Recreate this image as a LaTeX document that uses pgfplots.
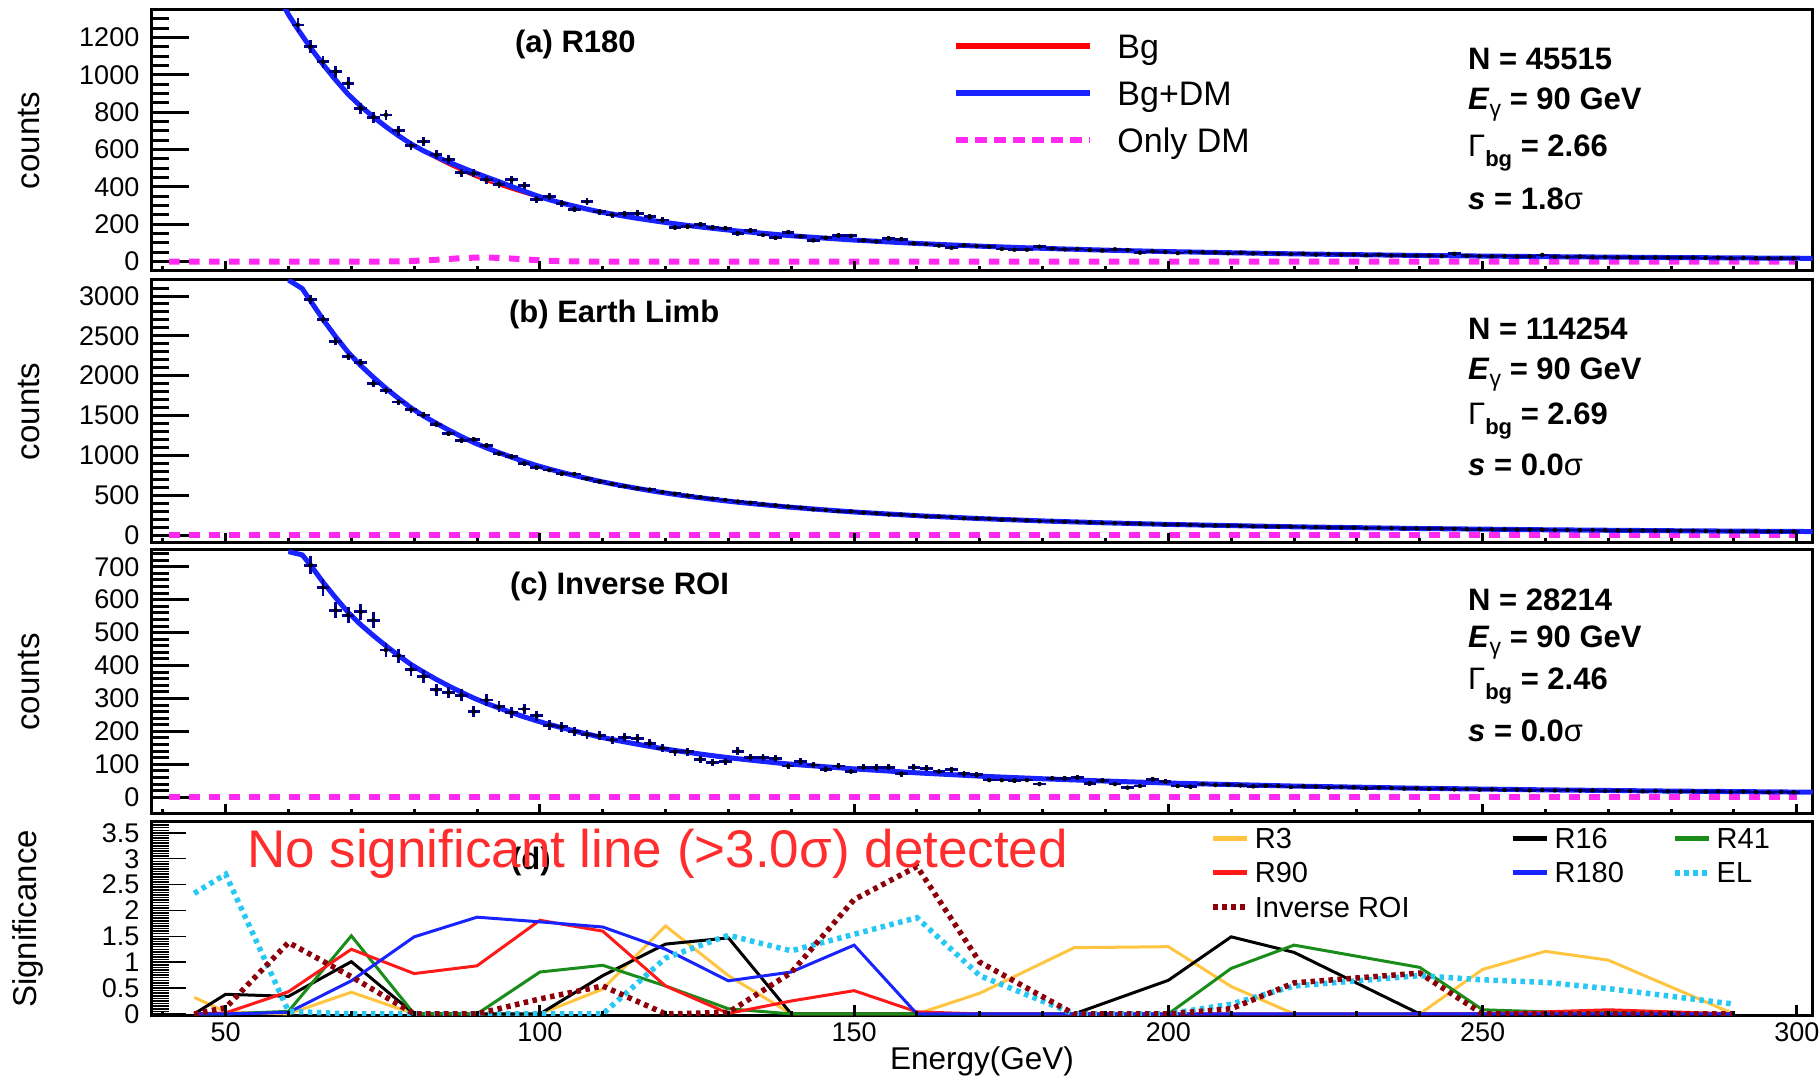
\documentclass[border=0pt]{standalone}
\usepackage{fontspec}
\setmainfont{Liberation Sans}
\usepackage{pgfplots}
\usepackage{pgfplotstable}
\pgfplotsset{compat=1.18}

\definecolor{ptblue}{RGB}{0,0,140}
\definecolor{fitblue}{RGB}{25,35,255}
\definecolor{bgred}{RGB}{255,0,0}
\definecolor{dmmag}{RGB}{255,40,240}
\definecolor{cRthree}{RGB}{255,196,64}
\definecolor{cRfortyone}{RGB}{25,140,25}
\definecolor{cRninety}{RGB}{255,25,25}
\definecolor{cRoneeighty}{RGB}{25,35,255}
\definecolor{cEL}{RGB}{40,200,245}
\definecolor{cIROI}{RGB}{140,0,10}
\definecolor{notered}{RGB}{255,45,45}

\newcommand{\fs}[1]{\fontsize{#1pt}{#1pt}\selectfont}

\tikzset{statnode/.style={anchor=base west, inner sep=0pt, font=\fs{31}\bfseries}}

\pgfplotsset{
  panel/.style={
    scale only axis, width=1661pt,
    xmin=38.2, xmax=302.5,
    axis line style={line width=3pt},
    tick style={black, line width=3pt},
    tick align=inside, tick pos=left,
    xtick=\empty,
    major tick length=37pt, minor tick length=17pt,
    scaled ticks=false,
    /pgf/number format/assume math mode=true,
    /pgf/number format/1000 sep={},
    yticklabel style={font=\fs{27}, inner sep=0pt, xshift=-12pt},
    ylabel style={font=\fs{33}, at={(axis description cs:-0.0674,0.5)}, anchor=base},
  },
  energyticks/.style={
    scale only axis, width=1661pt,
    xmin=38.2, xmax=302.5, ymin=0, ymax=1,
    axis line style={draw=none},
    tick style={black, line width=3pt},
    tick align=inside, tick pos=left,
    ytick=\empty,
    xtick={50,100,...,300}, minor xtick={40,50,...,300},
    major tick length=10pt, minor tick length=4.5pt,
    xticklabels={},
  },
  datapts/.style={only marks, mark=none, forget plot,
    error bars/x dir=both, error bars/x fixed=1,
    error bars/y dir=both, error bars/y explicit,
    error bars/error mark=none,
    error bars/error bar style={ptblue, line width=2.8pt}},
  bgline/.style={bgred, line width=2pt, forget plot},
  fitline/.style={fitblue, line width=5pt, forget plot},
  dmline/.style={dmmag, line width=6pt, dash pattern=on 10.5pt off 9.5pt, forget plot},
  sigleg/.style={
    scale only axis, width=1661pt, height=194pt, hide axis,
    xmin=0, xmax=1, ymin=0, ymax=1,
    legend style={at={(rel axis cs:#1,0.9698)}, anchor=north west, draw=none, fill=none,
      inner sep=0pt, outer sep=0pt, row sep=13.3pt, font=\fs{29},
      nodes={inner sep=0pt, text height=20.9pt, text depth=0pt},
      /tikz/every odd column/.append style={column sep=0pt},
      /tikz/every even column/.append style={column sep=0pt}},
    legend cell align=left,
    legend image code/.code={\draw[##1] (0pt,0pt) -- (34pt,0pt); \path[draw=none] (0pt,0pt) -- (42pt,0pt);},
  },
}

% ---------------- (a) R180 ----------------
\pgfplotstableread{
E n
61.5 1268
63.5 1152
65.5 1071
67.5 1018
69.5 956
71.5 822
73.5 773
75.5 786
77.5 702
79.5 621
81.5 643
83.5 572
85.5 548
87.5 477
89.5 473
91.5 438
93.5 415
95.5 438
97.5 407
99.5 334
101.5 348
103.5 313
105.5 281
107.5 321
109.5 268
111.5 250
113.5 256
115.5 259
117.5 241
119.5 223
121.5 182
123.5 188
125.5 200
127.5 184
129.5 179
131.5 152
133.5 166
135.5 143
137.5 128
139.5 158
141.5 136
143.5 114
145.5 128
147.5 140
149.5 138
151.5 114
153.5 108
155.5 124
157.5 120
159.5 98
161.5 95
163.5 86
165.5 74
167.5 88
169.5 84
171.5 80
173.5 68
175.5 64
177.5 64
179.5 80
181.5 70
183.5 66
185.5 68
187.5 62
189.5 60
191.5 66
193.5 62
195.5 48
197.5 56
199.5 52
201.5 46
203.5 52
205.5 50
207.5 49
209.5 45
211.5 48
213.5 44
215.5 46
217.5 42
219.5 41
221.5 42
223.5 38
225.5 41
227.5 37
229.5 38
231.5 35
233.5 37
235.5 33
237.5 35
239.5 32
241.5 33
243.5 30
245.5 42
247.5 31
249.5 30
251.5 29
253.5 30
255.5 28
257.5 29
259.5 36
261.5 26
263.5 25
265.5 27
267.5 24
269.5 25
271.5 23
273.5 24
275.5 22
277.5 23
279.5 22
281.5 21
283.5 22
285.5 20
287.5 21
289.5 19
291.5 20
293.5 19
295.5 18
297.5 19
299.5 18
}\dataA

\pgfplotstableread{
E bg tot
58 1448 1448
60 1323 1323
61.5 1244 1244
63.5 1146 1146
65.5 1056 1056
67.5 973 973
69.5 896 896
71.5 832 832
73.5 775 775.3
75.5 722 722.8
77.5 673 674.8
79.5 627 630.5
81.5 587 593.3
83.5 552 562.1
85.5 518 532.5
87.5 487 505.6
89.5 457 478.3
91.5 431 452.9
93.5 408 428.2
95.5 386 402.6
97.5 365 377.2
99.5 345 353.1
101.5 327 331.8
103.5 311 313.5
105.5 296 297.2
107.5 281 281.5
109.5 267 267
111.5 255 255
113.5 243 243
115.5 232 232
117.5 222 222
119.5 212 212
121.5 203 203
123.5 194 194
125.5 186 186
127.5 178.5 178.5
129.5 171 171
131.5 164 164
133.5 158 158
135.5 152 152
137.5 146 146
139.5 140 140
145 126.7 126.7
150 115.6 115.6
160 97.4 97.4
170 82.9 82.9
180 71.2 71.2
190 61.6 61.6
200 53.8 53.8
220 41.7 41.7
240 33.1 33.1
260 26.8 26.8
280 22.0 22.0
300 18.3 18.3
302.5 17.9 17.9
}\fitA

\pgfplotstableread{
E dm
41 0
72 0
73.5 0.3
75.5 0.8
77.5 1.8
79.5 3.5
81.5 6.3
83.5 10.1
85.5 14.5
87.5 18.6
89.5 21.3
91.5 21.9
93.5 20.2
95.5 16.6
97.5 12.2
99.5 8.1
101.5 4.8
103.5 2.5
105.5 1.2
107.5 0.5
110 0
300 0
}\dmA

% ---------------- (b) Earth Limb ----------------
\pgfplotstableread{
E n
63.5 2958
65.5 2707
67.5 2430
69.5 2240
71.5 2163
73.5 1900
75.5 1815
77.5 1670
79.5 1575
81.5 1506
83.5 1390
85.5 1275
87.5 1190
89.5 1201
91.5 1125
93.5 1020
95.5 983
97.5 900
99.5 850
101.5 815
103.5 770
105.5 766
107.5 705
109.5 672
111.5 640
113.5 613
115.5 586
117.5 570
119.5 540
121.5 518
123.5 495
125.5 475
127.5 455
129.5 440
131.5 420
133.5 405
135.5 388
137.5 372
139.5 358
141.5 343
143.5 322
145.5 314
147.5 300
149.5 296
151.5 280
153.5 275
155.5 258
157.5 256
159.5 247
161.5 234
163.5 230
165.5 225
167.5 212
169.5 210
171.5 204
173.5 192
175.5 190
177.5 186
179.5 176
181.5 175
183.5 166
185.5 164
187.5 160
189.5 152
191.5 150
193.5 147
195.5 140
197.5 139
199.5 133
201.5 131
203.5 128
205.5 122
207.5 122
209.5 117
211.5 116
213.5 111
215.5 110
217.5 105
219.5 105
221.5 100
223.5 99
225.5 97
227.5 93
229.5 93
231.5 89
233.5 88
235.5 87
237.5 83
239.5 83
241.5 79
243.5 79
245.5 77
247.5 74
249.5 74
251.5 71
253.5 71
255.5 68
257.5 68
259.5 66
261.5 64
263.5 64
265.5 62
267.5 62
269.5 59
271.5 59
273.5 57
275.5 57
277.5 55
279.5 54
281.5 53
283.5 53
285.5 51
287.5 50
289.5 49
291.5 48
293.5 48
295.5 46
297.5 46
299.5 45
}\dataB

\pgfplotstableread{
E bg
60 3200
62.2 3092
63.5 2939
65.5 2705
67.5 2490
69.5 2292
71.5 2127
73.5 1980
75.5 1842
77.5 1715
79.5 1596
81.5 1494
83.5 1403
85.5 1317
87.5 1236
89.5 1160
91.5 1094
93.5 1034
95.5 977
97.5 923
99.5 872
101.5 828
103.5 786
105.5 747
107.5 710
109.5 674
111.5 643
113.5 613
115.5 585
117.5 558
119.5 533
121.5 510
123.5 488
125.5 468
127.5 448
129.5 429
131.5 412
133.5 396
135.5 381
137.5 366
139.5 351
145 318
150 289
160 242.9
170 206.3
180 176.9
190 153
200 133.2
220 103.1
240 81.6
260 65.8
280 53.9
300 44.7
302.5 43.7
}\fitB

% ---------------- (c) Inverse ROI ----------------
\pgfplotstableread{
E n
63.5 705
65.5 637
67.5 568
69.5 553
71.5 563
73.5 538
75.5 447
77.5 429
79.5 388
81.5 366
83.5 326
85.5 318
87.5 310
89.5 260
91.5 295
93.5 275
95.5 257
97.5 268
99.5 247
101.5 219
103.5 214
105.5 199
107.5 191
109.5 187
111.5 174
113.5 182
115.5 179
117.5 164
119.5 149
121.5 138
123.5 138
125.5 115
127.5 105
129.5 108
131.5 140
133.5 121
135.5 121
137.5 118
139.5 95
141.5 108
143.5 98
145.5 85
147.5 95
149.5 78
151.5 91
153.5 90
155.5 91
157.5 71
159.5 91
161.5 88
163.5 78
165.5 83
167.5 71
169.5 68
171.5 52
173.5 52
175.5 50
177.5 52
179.5 40
181.5 58
183.5 58
185.5 60
187.5 42
189.5 50
191.5 40
193.5 29
195.5 34
197.5 55
199.5 47
201.5 34
203.5 32
205.5 40
207.5 37
209.5 38
211.5 36
213.5 33
215.5 35
217.5 34
219.5 31
221.5 33
223.5 32
225.5 29
227.5 31
229.5 30
231.5 27
233.5 29
235.5 28
237.5 26
239.5 27
241.5 25
243.5 26
245.5 24
247.5 25
249.5 23
251.5 24
253.5 22
255.5 23
257.5 21
259.5 22
261.5 21
263.5 22
265.5 20
267.5 21
269.5 19
271.5 20
273.5 19
275.5 18
277.5 19
279.5 18
281.5 17
283.5 18
285.5 17
287.5 18
289.5 16
291.5 17
293.5 16
295.5 15
297.5 16
299.5 15
}\dataC

\pgfplotstableread{
E bg
60 746
62.2 736
63.5 705
65.5 653
67.5 606
69.5 561
71.5 524
73.5 491
75.5 460
77.5 430.5
79.5 403
81.5 380
83.5 358
85.5 338
87.5 319
89.5 301
91.5 285
93.5 271
95.5 257
97.5 244
99.5 232
101.5 221
103.5 211
105.5 201
107.5 192
109.5 183
111.5 175.4
113.5 168
115.5 161
117.5 154.2
119.5 147.8
121.5 142
123.5 136.5
125.5 131.2
127.5 126.2
129.5 121.3
131.5 116.9
133.5 112.7
135.5 108.6
137.5 104.8
139.5 101
145 93
150 86
160 74
170 64
180 56
190 49
200 43
220 33.8
240 27.2
260 22.3
280 18.6
300 15.6
302.5 15.3
}\fitC

\begin{document}
\begin{tikzpicture}[x=1pt,y=1pt]
\useasboundingbox (0,0) rectangle (1820,1078);

% ===== panel (a) =====
\begin{axis}[panel, at={(151.5pt,1068pt)}, anchor=north west, height=261pt,
  ymin=-50, ymax=1348, ytick={0,200,...,1200}, minor ytick={0,50,...,1300},
  ylabel={counts},
  legend style={at={(rel axis cs:0.4824,0.9075)}, anchor=north west, draw=none, fill=none,
    inner sep=0pt, outer sep=0pt, row sep=22.3pt, font=\fs{34},
    nodes={inner sep=0pt, text height=24.5pt, text depth=0pt},
    /tikz/every odd column/.append style={column sep=0pt},
    /tikz/every even column/.append style={column sep=0pt}},
  legend cell align=left,
  legend image code/.code={\draw[#1] (0pt,0pt) -- (134pt,0pt); \path[draw=none] (0pt,0pt) -- (161.4pt,0pt);}]
\addlegendimage{bgred, line width=6pt}\addlegendentry{Bg}
\addlegendimage{fitblue, line width=6.5pt}\addlegendentry{Bg+DM}
\addlegendimage{dmmag, line width=6.5pt, dash pattern=on 12pt off 7pt}\addlegendentry{Only DM}
\addplot[dmline] table[x=E, y=dm] {\dmA};
\addplot[bgline] table[x=E, y=bg] {\fitA};
\addplot[fitline] table[x=E, y=tot] {\fitA};
\addplot[datapts] table[x=E, y=n, y error expr={sqrt(\thisrow{n})}] {\dataA};
\node[statnode, yshift=-42.7pt] at (rel axis cs:0.2188,1) {(a) R180};
\node[statnode, yshift=-60pt] at (rel axis cs:0.7926,1) {N = 45515};
\node[statnode, yshift=-99.3pt] at (rel axis cs:0.7926,1) {\textit{E}\raisebox{-7pt}{\fs{23}\mdseries γ} = 90 GeV};
\node[statnode, yshift=-146.7pt] at (rel axis cs:0.7926,1) {{\mdseries Γ}\raisebox{-10pt}{\fs{22}bg} = 2.66};
\node[statnode, yshift=-200pt] at (rel axis cs:0.7926,1) {\textit{s} = 1.8{\mdseries σ}};
\end{axis}
\begin{axis}[energyticks, at={(151.5pt,1068pt)}, anchor=north west, height=261pt]
\end{axis}

% ===== panel (b) =====
\begin{axis}[panel, at={(151.5pt,798pt)}, anchor=north west, height=263pt,
  ymin=-100, ymax=3201, ytick={0,500,...,3000}, minor ytick={0,100,...,3100},
  ylabel={counts}]
\addplot[dmline] coordinates {(41,0) (300,0)};
\addplot[bgline] table[x=E, y=bg] {\fitB};
\addplot[fitline] table[x=E, y=bg] {\fitB};
\addplot[datapts] table[x=E, y=n, y error expr={sqrt(\thisrow{n})}] {\dataB};
\node[statnode, yshift=-43pt] at (rel axis cs:0.2152,1) {(b) Earth Limb};
\node[statnode, yshift=-60pt] at (rel axis cs:0.7926,1) {N = 114254};
\node[statnode, yshift=-99.3pt] at (rel axis cs:0.7926,1) {\textit{E}\raisebox{-7pt}{\fs{23}\mdseries γ} = 90 GeV};
\node[statnode, yshift=-144.7pt] at (rel axis cs:0.7926,1) {{\mdseries Γ}\raisebox{-10pt}{\fs{22}bg} = 2.69};
\node[statnode, yshift=-196pt] at (rel axis cs:0.7926,1) {\textit{s} = 0.0{\mdseries σ}};
\end{axis}
\begin{axis}[energyticks, at={(151.5pt,798pt)}, anchor=north west, height=263pt]
\end{axis}

% ===== panel (c) =====
\begin{axis}[panel, at={(151.5pt,528pt)}, anchor=north west, height=264pt,
  ymin=-51, ymax=751, ytick={0,100,...,700}, minor ytick={0,20,...,740},
  ylabel={counts}]
\addplot[dmline] coordinates {(41,0) (300,0)};
\addplot[bgline] table[x=E, y=bg] {\fitC};
\addplot[fitline] table[x=E, y=bg] {\fitC};
\addplot[datapts] table[x=E, y=n, y error expr={sqrt(\thisrow{n})}] {\dataC};
\node[statnode, yshift=-45pt] at (rel axis cs:0.2158,1) {(c) Inverse ROI};
\node[statnode, yshift=-61pt] at (rel axis cs:0.7926,1) {N = 28214};
\node[statnode, yshift=-98pt] at (rel axis cs:0.7926,1) {\textit{E}\raisebox{-7pt}{\fs{23}\mdseries γ} = 90 GeV};
\node[statnode, yshift=-140pt] at (rel axis cs:0.7926,1) {{\mdseries Γ}\raisebox{-10pt}{\fs{22}bg} = 2.46};
\node[statnode, yshift=-192pt] at (rel axis cs:0.7926,1) {\textit{s} = 0.0{\mdseries σ}};
\end{axis}
\begin{axis}[energyticks, at={(151.5pt,528pt)}, anchor=north west, height=264pt]
\end{axis}

% ===== panel (d): significance scan =====
\begin{axis}[panel, at={(151.5pt,256pt)}, anchor=north west, height=194pt,
  ymin=-0.04, ymax=3.71, ytick={0,0.5,...,3.5}, minor ytick={0,0.05,...,3.7},
  major tick length=34pt, minor tick length=17pt,
  tick style={black, line width=1.5pt},
  ylabel={Significance}, ylabel style={at={(axis description cs:-0.0695,0.5)}},
  xlabel={Energy(GeV)},
  xlabel style={font=\fs{31.5}, at={(axis description cs:0.5,0)}, anchor=base, yshift=-54pt}]
\node[statnode, yshift=-48pt] at (rel axis cs:0.2164,1) {(d)};
\addplot[cRthree, line width=3pt] coordinates {(45,0.32) (50,0.04) (60,0) (70,0.42) (80,0) (90,0) (100,0) (110,0.48) (120,1.70) (130,0.74) (140,0) (150,0) (160,0) (170,0.40) (185,1.28) (200,1.30) (210,0.53) (220,0) (240,0) (250,0.86) (260,1.21) (270,1.04) (290,0)};
\addplot[black, line width=3pt] coordinates {(45,0) (50,0.38) (60,0.34) (70,1.01) (80,0) (90,0) (100,0) (110,0.74) (120,1.35) (130,1.47) (140,0) (150,0) (160,0) (170,0) (185,0) (200,0.65) (210,1.49) (220,1.19) (240,0) (250,0) (260,0) (270,0) (290,0)};
\addplot[cRfortyone, line width=3pt] coordinates {(45,0) (50,0) (60,0.05) (70,1.51) (80,0) (90,0) (100,0.81) (110,0.94) (120,0.54) (130,0.10) (140,0) (150,0) (160,0) (170,0) (185,0) (200,0) (210,0.88) (220,1.33) (240,0.90) (250,0.08) (260,0.04) (270,0.04) (290,0)};
\addplot[cRninety, line width=3pt] coordinates {(45,0) (50,0.02) (60,0.43) (70,1.25) (80,0.78) (90,0.93) (100,1.81) (110,1.60) (120,0.54) (130,0.01) (140,0.25) (150,0.45) (160,0.04) (170,0) (185,0) (200,0) (210,0) (220,0) (240,0) (250,0) (260,0.04) (270,0.08) (290,0)};
\addplot[cRoneeighty, line width=3pt] coordinates {(45,0) (50,0) (60,0.03) (70,0.64) (80,1.49) (90,1.87) (100,1.78) (110,1.68) (120,1.25) (130,0.64) (140,0.81) (150,1.33) (160,0) (170,0) (185,0) (200,0) (210,0) (220,0) (240,0) (250,0) (260,0) (270,0) (290,0)};
\addplot[cEL, line width=5.5pt, dash pattern=on 4.5pt off 4.5pt] coordinates {(45,2.33) (50,2.70) (60,0.05) (70,0) (80,0) (90,0) (100,0) (110,0) (120,1.08) (130,1.52) (140,1.22) (150,1.54) (160,1.86) (170,0.74) (185,0) (200,0) (210,0.19) (220,0.54) (240,0.74) (250,0.66) (260,0.61) (270,0.49) (290,0.19)};
\addplot[cIROI, line width=5.5pt, dash pattern=on 4.5pt off 4.5pt] coordinates {(45,0) (50,0.12) (60,1.38) (70,0.72) (80,0) (90,0) (100,0.29) (110,0.54) (120,0) (130,0.03) (140,0.80) (150,2.21) (160,2.85) (170,1.00) (185,0) (200,0) (210,0.10) (220,0.60) (240,0.79) (250,0) (260,0) (270,0) (290,0)};
\node[anchor=base west, inner sep=0pt, font=\fs{53}, text=notered, yshift=-46pt] at (rel axis cs:0.0575,1) {No significant line (>3.0σ) detected};
\end{axis}
\begin{axis}[energyticks, at={(151.5pt,256pt)}, anchor=north west, height=194pt,
  major tick length=11pt, minor tick length=5pt,
  xticklabels={50,100,150,200,250,300},
  xticklabel style={font=\fs{27}, inner sep=0pt, yshift=-6pt}]
\end{axis}

% legend of the significance panel, one column per axis
\begin{axis}[sigleg=0.6372, at={(151.5pt,256pt)}, anchor=north west]
\addlegendimage{cRthree, line width=4.5pt}\addlegendentry{R3}
\addlegendimage{cRninety, line width=4.5pt}\addlegendentry{R90}
\addlegendimage{cIROI, line width=6pt, dash pattern=on 5pt off 4pt}\addlegendentry{Inverse ROI}
\end{axis}
\begin{axis}[sigleg=0.8181, at={(151.5pt,256pt)}, anchor=north west]
\addlegendimage{black, line width=4.5pt}\addlegendentry{R16}
\addlegendimage{cRoneeighty, line width=4.5pt}\addlegendentry{R180}
\end{axis}
\begin{axis}[sigleg=0.9152, at={(151.5pt,256pt)}, anchor=north west]
\addlegendimage{cRfortyone, line width=4.5pt}\addlegendentry{R41}
\addlegendimage{cEL, line width=6pt, dash pattern=on 5pt off 4pt}\addlegendentry{EL}
\end{axis}
\end{tikzpicture}
\end{document}
